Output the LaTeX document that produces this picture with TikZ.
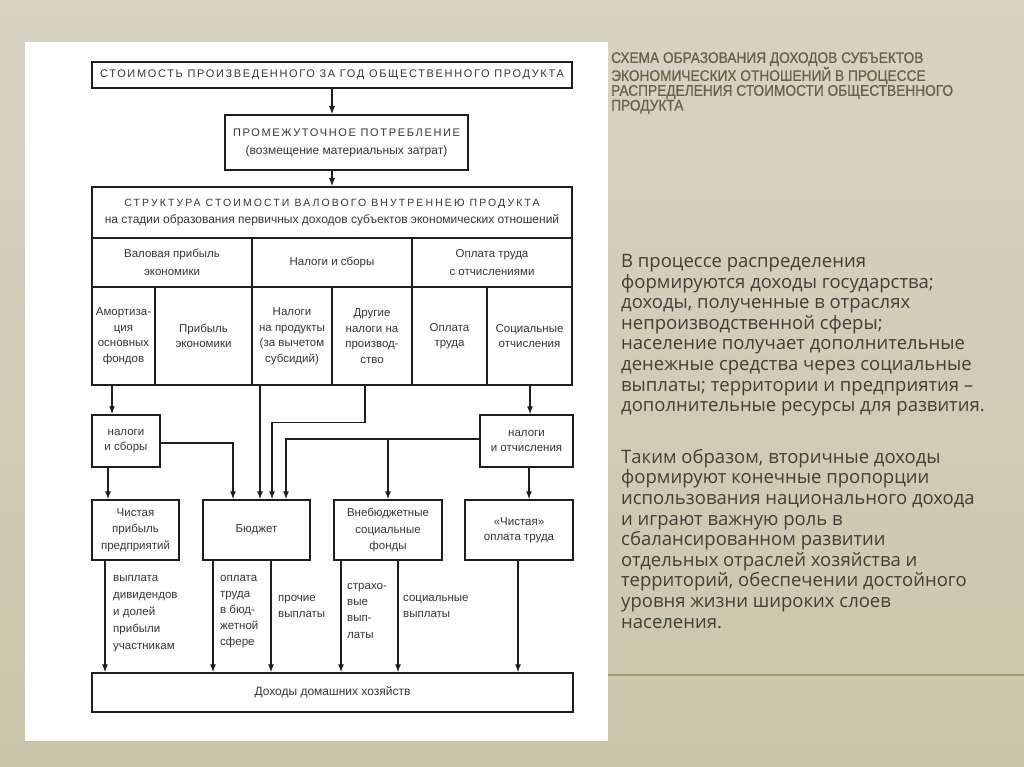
\documentclass[tikz,border=0pt]{standalone}
\usepackage{fontspec}
\setmainfont{Liberation Sans}
\newfontfamily\spacedfont[LetterSpace=15]{Liberation Sans}
\newfontfamily\widecaps[LetterSpace=20]{Liberation Sans}
\newfontfamily\titlefont[FakeStretch=0.89,FakeBold=0.6]{Liberation Sans}
\newfontfamily\bodyfont{Open Sans}
\usetikzlibrary{arrows.meta}

\definecolor{bgtop}{HTML}{D7D3C5}
\definecolor{bgmid}{HTML}{C3BD9F}
\definecolor{bgbot}{HTML}{CAC5A9}
\definecolor{ink}{HTML}{1E1E1E}
\definecolor{cellink}{HTML}{363636}
\definecolor{titleink}{HTML}{66624A}
\definecolor{bodyink}{HTML}{404038}
\definecolor{rulecol}{HTML}{A39D76}

\tikzset{
  box/.style={draw=ink, line width=1.5pt, inner sep=0pt, align=center,
    text=cellink, font=\fontsize{11.5}{15.5}\selectfont},
  lbl/.style={anchor=north west, inner sep=0pt, align=left, text=cellink,
    font=\fontsize{11.5}{16.5}\selectfont},
  arr/.style={draw=ink, line width=1.1pt, -{Latex[length=8pt,width=6pt]}},
}

\begin{document}
\begin{tikzpicture}[x=1pt,y=-1pt]
% Slide background
\shade[top color=bgtop, middle color=bgmid, bottom color=bgbot] (0,0) rectangle (1024,767);
\useasboundingbox (0,0) rectangle (1024,767);
\fill[white] (25,42) rectangle (608,741);
\draw[rulecol, line width=1.5pt] (608,675) -- (1024,675);

% Heading
\node[anchor=north west, inner sep=0pt, align=left, text=titleink,
  font=\titlefont\fontsize{15.4}{13.4}\selectfont] (title) at (611,52)
{СХЕМА ОБРАЗОВАНИЯ ДОХОДОВ СУБЪЕКТОВ\\ЭКОНОМИЧЕСКИХ ОТНОШЕНИЙ В ПРОЦЕССЕ\\РАСПРЕДЕЛЕНИЯ СТОИМОСТИ ОБЩЕСТВЕННОГО\\ПРОДУКТА};

% Text
\node[anchor=north west, inner sep=0pt, align=left, text=bodyink,
  font=\bodyfont\fontsize{18.5}{20.6}\selectfont] (para1) at (621,254)
{В процессе распределения\\формируются доходы государства;\\доходы, полученные в отраслях\\непроизводственной сферы;\\население получает дополнительные\\денежные средства через социальные\\выплаты; территории и предприятия –\\дополнительные ресурсы для развития.};

\node[anchor=north west, inner sep=0pt, align=left, text=bodyink,
  font=\bodyfont\fontsize{18.5}{20.6}\selectfont] (para2) at (621,449)
{Таким образом, вторичные доходы\\формируют конечные пропорции\\использования национального дохода\\и играют важную роль в\\сбалансированном развитии\\отдельных отраслей хозяйства и\\территорий, обеспечении достойного\\уровня жизни широких слоев\\населения.};

% Top of the scheme
\node[box, minimum width=480pt, minimum height=26pt,
  font=\spacedfont\fontsize{11}{12}\selectfont] (total) at (332,75)
{СТОИМОСТЬ ПРОИЗВЕДЕННОГО ЗА ГОД ОБЩЕСТВЕННОГО ПРОДУКТА};

\node[box, minimum width=243pt, minimum height=55pt,
  font=\fontsize{12}{18}\selectfont] (interm) at (346.5,142.5)
{{\spacedfont\fontsize{11}{18}\selectfont ПРОМЕЖУТОЧНОЕ ПОТРЕБЛЕНИЕ}\\(возмещение материальных затрат)};

\node[box, minimum width=480pt, minimum height=51pt,
  font=\fontsize{12}{17}\selectfont] (gdp) at (332,212.5)
{{\widecaps\fontsize{10.5}{17}\selectfont СТРУКТУРА СТОИМОСТИ ВАЛОВОГО ВНУТРЕННЕЮ ПРОДУКТА}\\на стадии образования первичных доходов субъектов экономических отношений};

% First row
\node[box, minimum width=160pt, minimum height=49pt,
  font=\fontsize{11.5}{18}\selectfont] (gross) at (172,262.5) {Валовая прибыль\\экономики};
\node[box, minimum width=160pt, minimum height=49pt] (taxes) at (332,262.5) {Налоги и сборы};
\node[box, minimum width=160pt, minimum height=49pt,
  font=\fontsize{11.5}{18}\selectfont] (labour) at (492,262.5) {Оплата труда\\с отчислениями};

% Second row
\node[box, minimum width=63pt, minimum height=98pt] (amort) at (123.5,336) {Амортиза-\\ция\\основных\\фондов};
\node[box, minimum width=97pt, minimum height=98pt] (profit) at (203.5,336) {Прибыль\\экономики};
\node[box, minimum width=80pt, minimum height=98pt] (prodtax) at (292,336) {Налоги\\на продукты\\(за вычетом\\субсидий)};
\node[box, minimum width=80pt, minimum height=98pt] (othtax) at (372,336) {Другие\\налоги на\\производ-\\ство};
\node[box, minimum width=75pt, minimum height=98pt] (wage) at (449.5,336) {Оплата\\труда};
\node[box, minimum width=85pt, minimum height=98pt] (socdue) at (529.5,336) {Социальные\\отчисления};

% Middle boxes
\node[box, minimum width=68pt, minimum height=52pt] (taxL) at (126,441) {налоги\\и сборы};
\node[box, minimum width=93pt, minimum height=52pt] (taxR) at (526.5,441) {налоги\\и отчисления};

% Third level
\node[box, minimum width=87pt, minimum height=60pt,
  font=\fontsize{11.5}{16.5}\selectfont] (netprof) at (135.5,530) {Чистая\\прибыль\\предприятий};
\node[box, minimum width=107pt, minimum height=60pt] (budget) at (256.5,530) {Бюджет};
\node[box, minimum width=108pt, minimum height=60pt,
  font=\fontsize{11.5}{16.5}\selectfont] (funds) at (388,530) {Внебюджетные\\социальные\\фонды};
\node[box, minimum width=108pt, minimum height=60pt] (netwage) at (519,530) {«Чистая»\\оплата труда};

% Households
\node[box, minimum width=481pt, minimum height=39pt, font=\fontsize{12}{15}\selectfont] (house) at (332.5,692.5) {Доходы домашних хозяйств};

% Arrow labels
\node[lbl, font=\fontsize{11.5}{17}\selectfont] (lbldiv) at (113,575) {выплата\\дивидендов\\и долей\\прибыли\\участникам};
\node[lbl, font=\fontsize{11.5}{16}\selectfont] (lblpay) at (220,575) {оплата\\труда\\в бюд-\\жетной\\сфере};
\node[lbl] (lbloth) at (278,595) {прочие\\выплаты};
\node[lbl, font=\fontsize{11.5}{16.3}\selectfont] (lblins) at (347,583) {страхо-\\вые\\вып-\\латы};
\node[lbl] (lblsoc) at (403,595) {социальные\\выплаты};

% Arrows
\draw[arr] (total.south) -- (total.south |- interm.north);
\draw[arr] (total.south |- interm.south) -- (total.south |- gdp.north);

\draw[arr] ([xshift=-14pt]taxL.north |- amort.south) -- ([xshift=-14pt]taxL.north);
\draw[arr] ([xshift=3.5pt]taxR.north |- socdue.south) -- ([xshift=3.5pt]taxR.north);
\draw[arr] ([xshift=3.5pt]budget.north |- prodtax.south) -- ([xshift=3.5pt]budget.north);
\draw[arr] ([xshift=-7pt]othtax.south) -- ++(0,37) -| ([xshift=15.5pt]budget.north);

\coordinate (joinL) at ([yshift=-2pt]taxL.east);
\coordinate (joinR) at ([yshift=2pt]taxR.west);
\draw[arr] (joinL) -| ([xshift=-23.5pt]budget.north);
\draw[arr] (joinR) -| ([xshift=29.5pt]budget.north);
\draw[arr] (funds.north |- joinR) -- (funds.north);

\draw[arr] ([xshift=-18pt]taxL.south) -- ([xshift=-18pt]taxL.south |- netprof.north);
\draw[arr] ([xshift=2.5pt]taxR.south) -- ([xshift=2.5pt]taxR.south |- netwage.north);

\draw[arr] ([xshift=-30.5pt]netprof.south) -- ([xshift=-30.5pt]netprof.south |- house.north);
\draw[arr] ([xshift=-43.5pt]budget.south) -- ([xshift=-43.5pt]budget.south |- house.north);
\draw[arr] ([xshift=14.5pt]budget.south) -- ([xshift=14.5pt]budget.south |- house.north);
\draw[arr] ([xshift=-47pt]funds.south) -- ([xshift=-47pt]funds.south |- house.north);
\draw[arr] ([xshift=10pt]funds.south) -- ([xshift=10pt]funds.south |- house.north);
\draw[arr] ([xshift=-1pt]netwage.south) -- ([xshift=-1pt]netwage.south |- house.north);
\end{tikzpicture}
\end{document}
